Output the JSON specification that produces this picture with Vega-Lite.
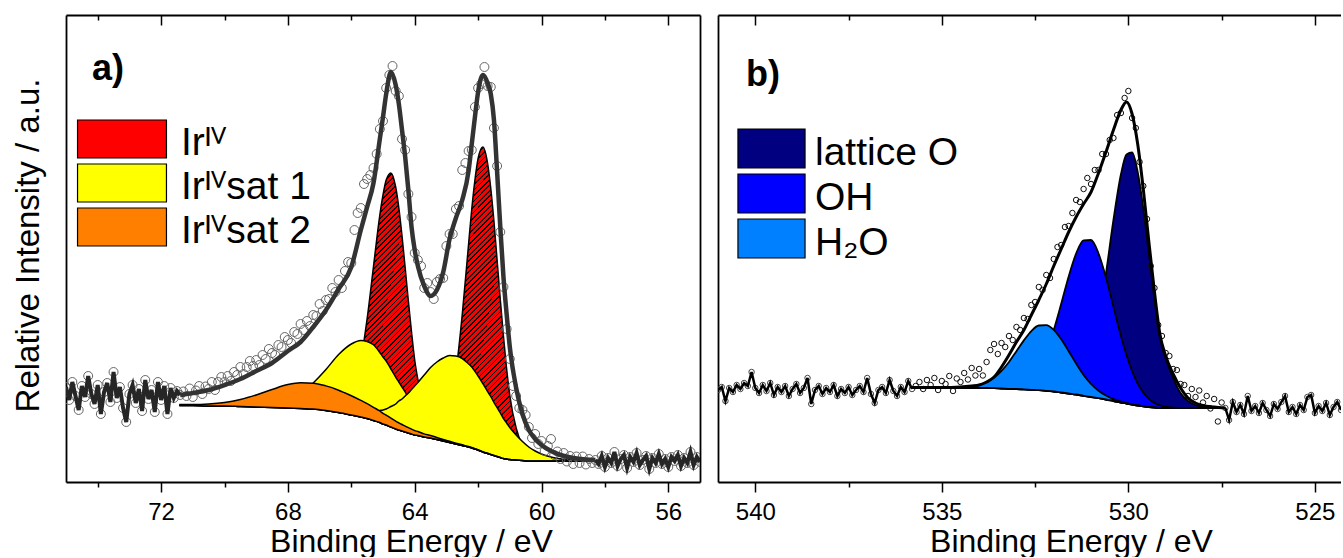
{
"$schema": "https://vega.github.io/schema/vega-lite/v6.json",
"background": "white",
"padding": {"left": 11, "top": 14, "right": 0, "bottom": 0},
"spacing": 18,
"config": {
  "font": "Liberation Sans",
  "view": {"stroke": null},
  "axis": {"grid": false, "domainColor": "#000", "domainWidth": 1.8, "tickColor": "#000", "tickWidth": 1.5, "labelColor": "#000", "titleColor": "#000", "labelFont": "Liberation Sans", "titleFont": "Liberation Sans", "labelFontSize": 24, "titleFontSize": 32, "titleFontWeight": "normal"},
  "legend": {"labelFont": "Liberation Sans", "labelColor": "#000"}
},
"resolve": {"scale": {"x": "independent", "y": "independent", "color": "independent"}, "legend": {"color": "independent"}},
"datasets": {
  "fitA": [
    {"E":71.4,"bg":76.5,"ir":77.5,"s1a":77,"s1b":77,"s2":77.5,"env":87},
    {"E":71.0,"bg":76.5,"ir":77.5,"s1a":77,"s1b":77,"s2":77.5,"env":89},
    {"E":70.5,"bg":76,"ir":77,"s1a":76.5,"s1b":76.5,"s2":78,"env":92},
    {"E":70.0,"bg":76,"ir":77.5,"s1a":76.5,"s1b":76.5,"s2":79.5,"env":97},
    {"E":69.5,"bg":75.5,"ir":77,"s1a":76,"s1b":76,"s2":82.5,"env":103},
    {"E":69.0,"bg":75,"ir":77,"s1a":78,"s1b":75.5,"s2":87,"env":111},
    {"E":68.5,"bg":74.5,"ir":77,"s1a":78.5,"s1b":75,"s2":92.5,"env":119},
    {"E":68.0,"bg":74,"ir":77,"s1a":81,"s1b":74.5,"s2":97.4,"env":131},
    {"E":67.6,"bg":73.5,"ir":77.5,"s1a":87.5,"s1b":74,"s2":99.2,"env":140},
    {"E":67.2,"bg":73,"ir":78,"s1a":99,"s1b":73.5,"s2":98.8,"env":155},
    {"E":66.8,"bg":71.5,"ir":78,"s1a":112.5,"s1b":72,"s2":96.1,"env":172},
    {"E":66.4,"bg":69.5,"ir":80.5,"s1a":127.5,"s1b":70.5,"s2":91.8,"env":193},
    {"E":66.0,"bg":67,"ir":90,"s1a":138,"s1b":69,"s2":86.2,"env":215},
    {"E":65.7,"bg":65,"ir":122,"s1a":141.5,"s1b":69,"s2":81.6,"env":252},
    {"E":65.5,"bg":63.5,"ir":163.5,"s1a":140.5,"s1b":69.5,"s2":78.4,"env":275},
    {"E":65.3,"bg":61.5,"ir":215.5,"s1a":137.2,"s1b":69.5,"s2":74.7,"env":299},
    {"E":65.1,"bg":59.5,"ir":267,"s1a":129.5,"s1b":71.5,"s2":71,"env":343},
    {"E":65.0,"bg":58,"ir":287,"s1a":125,"s1b":72,"s2":68.7,"env":365},
    {"E":64.9,"bg":57,"ir":302,"s1a":121,"s1b":73,"s2":66.9,"env":388},
    {"E":64.75,"bg":55,"ir":309,"s1a":113,"s1b":75.5,"s2":63.8,"env":410},
    {"E":64.6,"bg":53,"ir":295,"s1a":105,"s1b":78,"s2":60.8,"env":397},
    {"E":64.5,"bg":52,"ir":274,"s1a":100,"s1b":81,"s2":59.1,"env":378},
    {"E":64.4,"bg":51,"ir":246,"s1a":95,"s1b":83,"s2":57.5,"env":352},
    {"E":64.3,"bg":50,"ir":214,"s1a":90,"s1b":86,"s2":55.9,"env":325},
    {"E":64.2,"bg":49,"ir":181,"s1a":84,"s1b":89,"s2":54.4,"env":292},
    {"E":64.1,"bg":48,"ir":150,"s1a":79.5,"s1b":92.5,"s2":52.9,"env":255},
    {"E":64.0,"bg":47,"ir":122,"s1a":75,"s1b":96,"s2":51.4,"env":232},
    {"E":63.9,"bg":46.5,"ir":102.5,"s1a":70.5,"s1b":99.5,"s2":50.5,"env":216},
    {"E":63.7,"bg":45,"ir":72,"s1a":63,"s1b":107,"s2":48.1,"env":196},
    {"E":63.5,"bg":44,"ir":59,"s1a":57,"s1b":114.5,"s2":46.5,"env":186},
    {"E":63.3,"bg":42.5,"ir":54.5,"s1a":51.5,"s1b":120,"s2":44.5,"env":192},
    {"E":63.1,"bg":41,"ir":59,"s1a":47,"s1b":124,"s2":42.5,"env":210},
    {"E":62.9,"bg":39.5,"ir":77,"s1a":43.5,"s1b":126.5,"s2":40.7,"env":243},
    {"E":62.7,"bg":38,"ir":110,"s1a":40.5,"s1b":126,"s2":38.9,"env":264},
    {"E":62.5,"bg":36.5,"ir":167.5,"s1a":38.5,"s1b":123.5,"s2":37.2,"env":282},
    {"E":62.3,"bg":35,"ir":238,"s1a":36.5,"s1b":118,"s2":35.5,"env":311},
    {"E":62.2,"bg":34,"ir":273,"s1a":35.5,"s1b":115,"s2":34.5,"env":338},
    {"E":62.1,"bg":33,"ir":302,"s1a":34.5,"s1b":110.6,"s2":33.4,"env":365},
    {"E":62.0,"bg":32,"ir":323.6,"s1a":33,"s1b":106,"s2":32.3,"env":390},
    {"E":61.85,"bg":30,"ir":335,"s1a":31,"s1b":98.5,"s2":30.2,"env":407},
    {"E":61.7,"bg":28.5,"ir":318.5,"s1a":29.5,"s1b":90.5,"s2":28.7,"env":399},
    {"E":61.6,"bg":27.5,"ir":293.5,"s1a":28.5,"s1b":85.5,"s2":27.6,"env":388},
    {"E":61.5,"bg":26.5,"ir":260.5,"s1a":27.5,"s1b":79.5,"s2":26.5,"env":362},
    {"E":61.4,"bg":25.5,"ir":221.5,"s1a":26.5,"s1b":74.5,"s2":25.5,"env":310},
    {"E":61.3,"bg":24.5,"ir":182.5,"s1a":25.5,"s1b":69,"s2":24.5,"env":255},
    {"E":61.2,"bg":23.5,"ir":145.5,"s1a":24.5,"s1b":63.5,"s2":23.5,"env":205},
    {"E":61.1,"bg":23,"ir":113,"s1a":24,"s1b":59,"s2":23,"env":168},
    {"E":61.0,"bg":22.5,"ir":86.5,"s1a":23.5,"s1b":54.5,"s2":22.5,"env":135},
    {"E":60.8,"bg":22,"ir":54,"s1a":23,"s1b":47,"s2":22,"env":94},
    {"E":60.6,"bg":21.5,"ir":36.5,"s1a":22.5,"s1b":40.5,"s2":21.5,"env":68},
    {"E":60.4,"bg":21,"ir":29,"s1a":22,"s1b":35,"s2":21,"env":52},
    {"E":60.2,"bg":21,"ir":26,"s1a":22,"s1b":31,"s2":21,"env":43},
    {"E":60.0,"bg":21,"ir":25,"s1a":21.5,"s1b":28,"s2":21,"env":37},
    {"E":59.7,"bg":21,"ir":24,"s1a":21.5,"s1b":25,"s2":21,"env":31},
    {"E":59.4,"bg":21,"ir":23,"s1a":21,"s1b":23,"s2":21,"env":27},
    {"E":59.0,"bg":21,"ir":22.5,"s1a":21,"s1b":22,"s2":21,"env":24},
    {"E":58.6,"bg":21,"ir":22,"s1a":21,"s1b":21.5,"s2":21,"env":22.5},
    {"E":58.3,"bg":21,"ir":21.5,"s1a":21,"s1b":21,"s2":21,"env":22}
  ],
  "ptsA": [
    {"E":71.3,"I":90.5},{"E":71.2,"I":86},{"E":71.1,"I":93.5},{"E":71.0,"I":85},{"E":70.9,"I":91.5},{"E":70.8,"I":96},{"E":70.7,"I":88},{"E":70.6,"I":95.5},{"E":70.5,"I":93},{"E":70.4,"I":100},
    {"E":70.3,"I":92},{"E":70.2,"I":100},{"E":70.1,"I":105},{"E":70.0,"I":100},{"E":69.9,"I":106},{"E":69.8,"I":101},{"E":69.7,"I":110},{"E":69.6,"I":107},{"E":69.5,"I":115},{"E":69.4,"I":108},
    {"E":69.3,"I":115},{"E":69.2,"I":121},{"E":69.1,"I":116},{"E":69.0,"I":122},{"E":68.9,"I":117},{"E":68.8,"I":127},{"E":68.7,"I":123},{"E":68.6,"I":133},{"E":68.5,"I":129},{"E":68.4,"I":127},
    {"E":68.3,"I":137},{"E":68.2,"I":135},{"E":68.1,"I":145},{"E":68.0,"I":142},{"E":67.9,"I":139},{"E":67.8,"I":150},{"E":67.7,"I":148},{"E":67.6,"I":158},{"E":67.5,"I":152},{"E":67.4,"I":161},
    {"E":67.3,"I":156},{"E":67.2,"I":167},{"E":67.1,"I":166},{"E":67.0,"I":178},{"E":66.9,"I":171},{"E":66.8,"I":182},{"E":66.7,"I":183},{"E":66.6,"I":194},{"E":66.5,"I":190},{"E":66.4,"I":202},
    {"E":66.3,"I":194},{"E":66.2,"I":211},{"E":66.1,"I":220},{"E":66.0,"I":219},{"E":65.9,"I":252},{"E":65.8,"I":269},{"E":65.7,"I":274},{"E":65.6,"I":298},{"E":65.5,"I":303},{"E":65.4,"I":307},
    {"E":65.3,"I":314},{"E":65.2,"I":328},{"E":65.1,"I":353},{"E":65.0,"I":361},{"E":64.9,"I":394},{"E":64.8,"I":407},{"E":64.7,"I":416},{"E":64.6,"I":391},{"E":64.5,"I":386},{"E":64.4,"I":343},
    {"E":64.3,"I":332},{"E":64.2,"I":288},{"E":64.1,"I":265},{"E":64.0,"I":229},{"E":63.9,"I":222},{"E":63.8,"I":216},{"E":63.7,"I":194},{"E":63.6,"I":199},{"E":63.5,"I":190},{"E":63.4,"I":183},
    {"E":63.3,"I":200},{"E":63.2,"I":203},{"E":63.1,"I":204},{"E":63.0,"I":236},{"E":62.9,"I":248},{"E":62.8,"I":248},{"E":62.7,"I":273},{"E":62.6,"I":276},{"E":62.5,"I":312},{"E":62.4,"I":319},
    {"E":62.3,"I":331},{"E":62.2,"I":332},{"E":62.1,"I":375},{"E":62.0,"I":394},{"E":61.9,"I":398},{"E":61.8,"I":415},{"E":61.7,"I":396},{"E":61.6,"I":395},{"E":61.5,"I":354},{"E":61.4,"I":316},
    {"E":61.3,"I":250},{"E":61.2,"I":195},{"E":61.1,"I":153},{"E":61.0,"I":123},{"E":60.9,"I":96},{"E":60.8,"I":86},{"E":60.7,"I":74},{"E":60.6,"I":72},{"E":60.5,"I":67},{"E":60.4,"I":55},
    {"E":60.3,"I":44},{"E":60.2,"I":48},{"E":60.1,"I":38},{"E":60.0,"I":41},{"E":59.9,"I":31},{"E":59.8,"I":36},{"E":59.7,"I":43},{"E":59.6,"I":27},{"E":59.5,"I":30.5},{"E":59.4,"I":23},
    {"E":59.3,"I":29},{"E":59.2,"I":20.5},{"E":59.1,"I":26},{"E":59.0,"I":18},{"E":58.9,"I":25.5},{"E":58.8,"I":19},{"E":58.7,"I":25.5},{"E":58.6,"I":17.5},{"E":58.5,"I":23},{"E":58.4,"I":19}
  ],
  "edgeA": [
    {"E":75.0,"I":95,"seg":"L"},{"E":74.9,"I":82,"seg":"L"},{"E":74.8,"I":100,"seg":"L"},{"E":74.7,"I":86,"seg":"L"},{"E":74.6,"I":72,"seg":"L"},{"E":74.5,"I":96,"seg":"L"},{"E":74.4,"I":85,"seg":"L"},{"E":74.3,"I":106,"seg":"L"},{"E":74.2,"I":88,"seg":"L"},{"E":74.1,"I":78,"seg":"L"},
    {"E":74.0,"I":97,"seg":"L"},{"E":73.9,"I":68,"seg":"L"},{"E":73.8,"I":90,"seg":"L"},{"E":73.7,"I":99,"seg":"L"},{"E":73.6,"I":80,"seg":"L"},{"E":73.5,"I":110,"seg":"L"},{"E":73.4,"I":84,"seg":"L"},{"E":73.3,"I":95,"seg":"L"},{"E":73.2,"I":74,"seg":"L"},{"E":73.1,"I":60,"seg":"L"},
    {"E":73.0,"I":88,"seg":"L"},{"E":72.9,"I":97,"seg":"L"},{"E":72.8,"I":79,"seg":"L"},{"E":72.7,"I":93,"seg":"L"},{"E":72.6,"I":71,"seg":"L"},{"E":72.5,"I":102,"seg":"L"},{"E":72.4,"I":83,"seg":"L"},{"E":72.3,"I":92,"seg":"L"},{"E":72.2,"I":70,"seg":"L"},{"E":72.1,"I":100,"seg":"L"},
    {"E":72.0,"I":82,"seg":"L"},{"E":71.9,"I":96,"seg":"L"},{"E":71.8,"I":68,"seg":"L"},{"E":71.7,"I":94,"seg":"L"},{"E":71.6,"I":84,"seg":"L"},{"E":71.5,"I":91,"seg":"L"},{"E":71.4,"I":87,"seg":"L"},
    {"E":58.3,"I":22,"seg":"R"},{"E":58.2,"I":18,"seg":"R"},{"E":58.1,"I":26,"seg":"R"},{"E":58.0,"I":15,"seg":"R"},{"E":57.9,"I":24,"seg":"R"},{"E":57.8,"I":19,"seg":"R"},{"E":57.7,"I":30,"seg":"R"},{"E":57.6,"I":16,"seg":"R"},{"E":57.5,"I":23,"seg":"R"},{"E":57.4,"I":27,"seg":"R"},
    {"E":57.3,"I":14,"seg":"R"},{"E":57.2,"I":25,"seg":"R"},{"E":57.1,"I":20,"seg":"R"},{"E":57.0,"I":29,"seg":"R"},{"E":56.9,"I":17,"seg":"R"},{"E":56.8,"I":22,"seg":"R"},{"E":56.7,"I":26,"seg":"R"},{"E":56.6,"I":13,"seg":"R"},{"E":56.5,"I":24,"seg":"R"},{"E":56.4,"I":19,"seg":"R"},
    {"E":56.3,"I":28,"seg":"R"},{"E":56.2,"I":18,"seg":"R"},{"E":56.1,"I":23,"seg":"R"},{"E":56.0,"I":15,"seg":"R"},{"E":55.9,"I":25,"seg":"R"},{"E":55.8,"I":21,"seg":"R"},{"E":55.7,"I":27,"seg":"R"},{"E":55.6,"I":16,"seg":"R"},{"E":55.5,"I":24,"seg":"R"},{"E":55.4,"I":19,"seg":"R"},
    {"E":55.3,"I":30,"seg":"R"},{"E":55.2,"I":17,"seg":"R"},{"E":55.1,"I":25,"seg":"R"},{"E":55.0,"I":20,"seg":"R"}
  ],
  "fitB": [
    {"E":535.8,"bg":94,"h2o":94,"oh":94,"lat":94,"env":94.5},
    {"E":535.0,"bg":94,"h2o":94,"oh":94,"lat":94,"env":94.5},
    {"E":534.5,"bg":94,"h2o":94.3,"oh":94,"lat":94,"env":95},
    {"E":534.2,"bg":94,"h2o":95.4,"oh":94,"lat":94,"env":96},
    {"E":534.0,"bg":94,"h2o":97,"oh":94,"lat":94,"env":97},
    {"E":533.8,"bg":94,"h2o":99.9,"oh":94.2,"lat":94,"env":100},
    {"E":533.6,"bg":93.8,"h2o":104.4,"oh":94.2,"lat":93.8,"env":105},
    {"E":533.4,"bg":93.5,"h2o":111.1,"oh":93.9,"lat":93.5,"env":115},
    {"E":533.2,"bg":93.2,"h2o":120,"oh":94.2,"lat":93.2,"env":127},
    {"E":533.0,"bg":93,"h2o":130.8,"oh":95.6,"lat":93,"env":140},
    {"E":532.8,"bg":92.6,"h2o":141.6,"oh":98.5,"lat":92.6,"env":152},
    {"E":532.6,"bg":92.2,"h2o":150.9,"oh":104.2,"lat":92.2,"env":167},
    {"E":532.4,"bg":91.8,"h2o":156.5,"oh":114.5,"lat":91.8,"env":182},
    {"E":532.2,"bg":91.2,"h2o":156.9,"oh":130.2,"lat":91.2,"env":198},
    {"E":532.0,"bg":90.5,"h2o":152.1,"oh":152.1,"lat":90.5,"env":216},
    {"E":531.8,"bg":89.5,"h2o":142.7,"oh":178.2,"lat":90.4,"env":233},
    {"E":531.6,"bg":88.5,"h2o":130.8,"oh":205.5,"lat":91.3,"env":250},
    {"E":531.4,"bg":87.5,"h2o":118.5,"oh":228.5,"lat":95.3,"env":265},
    {"E":531.2,"bg":86.2,"h2o":107.1,"oh":241.7,"lat":105.2,"env":278},
    {"E":531.0,"bg":85,"h2o":98,"oh":242,"lat":126,"env":290},
    {"E":530.8,"bg":83.8,"h2o":91.3,"oh":228.5,"lat":160.5,"env":309},
    {"E":530.6,"bg":82.5,"h2o":86.5,"oh":204.5,"lat":208.5,"env":330},
    {"E":530.4,"bg":81,"h2o":82.9,"oh":175.4,"lat":262,"env":352},
    {"E":530.2,"bg":79.5,"h2o":80.4,"oh":146.2,"lat":307.5,"env":372},
    {"E":530.05,"bg":78.5,"h2o":78.9,"oh":127,"lat":327.5,"env":380},
    {"E":529.9,"bg":77.5,"h2o":77.5,"oh":111,"lat":329.5,"env":368},
    {"E":529.75,"bg":76.5,"h2o":76.5,"oh":98.5,"lat":310,"env":338},
    {"E":529.6,"bg":75.7,"h2o":75.7,"oh":89.5,"lat":273.7,"env":293},
    {"E":529.45,"bg":75,"h2o":75,"oh":83.2,"lat":228.5,"env":240},
    {"E":529.3,"bg":74.5,"h2o":74.5,"oh":79.1,"lat":183.2,"env":190},
    {"E":529.15,"bg":74.2,"h2o":74.2,"oh":76.7,"lat":144.5,"env":147},
    {"E":529.0,"bg":74,"h2o":74,"oh":75.3,"lat":124,"env":126},
    {"E":528.8,"bg":74,"h2o":74,"oh":74.4,"lat":104,"env":108},
    {"E":528.6,"bg":74,"h2o":74,"oh":74,"lat":89,"env":94},
    {"E":528.4,"bg":74,"h2o":74,"oh":74,"lat":81,"env":84},
    {"E":528.2,"bg":74,"h2o":74,"oh":74,"lat":77,"env":79},
    {"E":528.0,"bg":74,"h2o":74,"oh":74,"lat":75,"env":76.5},
    {"E":527.7,"bg":74,"h2o":74,"oh":74,"lat":74,"env":75},
    {"E":527.4,"bg":74,"h2o":74,"oh":74,"lat":74,"env":74}
  ],
  "ptsB": [
    {"E":535.7,"I":96},{"E":535.6,"I":100},{"E":535.5,"I":93},{"E":535.4,"I":102},{"E":535.3,"I":97},{"E":535.2,"I":104},{"E":535.1,"I":92},{"E":535.0,"I":101},{"E":534.9,"I":98},{"E":534.8,"I":106},
    {"E":534.7,"I":91},{"E":534.6,"I":103.5},{"E":534.5,"I":100},{"E":534.4,"I":109},{"E":534.3,"I":102.5},{"E":534.2,"I":114},{"E":534.1,"I":106.5},{"E":534.0,"I":113},{"E":533.9,"I":106.5},{"E":533.8,"I":120},
    {"E":533.7,"I":132},{"E":533.6,"I":138},{"E":533.5,"I":128},{"E":533.4,"I":139},{"E":533.3,"I":135},{"E":533.2,"I":146},{"E":533.1,"I":142},{"E":533.0,"I":155},{"E":532.9,"I":152},{"E":532.8,"I":164},
    {"E":532.7,"I":163},{"E":532.6,"I":177},{"E":532.5,"I":180},{"E":532.4,"I":195},{"E":532.3,"I":192},{"E":532.2,"I":207},{"E":532.1,"I":204},{"E":532.0,"I":223},{"E":531.9,"I":235},{"E":531.8,"I":237},
    {"E":531.7,"I":255},{"E":531.6,"I":256},{"E":531.5,"I":269},{"E":531.4,"I":282},{"E":531.3,"I":280},{"E":531.2,"I":293},{"E":531.1,"I":304},{"E":531.0,"I":298},{"E":530.9,"I":312},{"E":530.8,"I":312},
    {"E":530.7,"I":328},{"E":530.6,"I":328},{"E":530.5,"I":342},{"E":530.4,"I":344},{"E":530.3,"I":367},{"E":530.2,"I":369},{"E":530.1,"I":384},{"E":530.0,"I":391},{"E":529.9,"I":364},{"E":529.8,"I":354},
    {"E":529.7,"I":320},{"E":529.6,"I":296},{"E":529.5,"I":263},{"E":529.4,"I":216},{"E":529.3,"I":194},{"E":529.2,"I":157},{"E":529.1,"I":146},{"E":529.0,"I":129},{"E":528.9,"I":126},{"E":528.8,"I":113},
    {"E":528.7,"I":112},{"E":528.6,"I":98},{"E":528.5,"I":97},{"E":528.4,"I":86},{"E":528.3,"I":93},{"E":528.2,"I":85},{"E":528.1,"I":91.5},{"E":528.0,"I":79.5},{"E":527.9,"I":86},{"E":527.8,"I":73.5},
    {"E":527.7,"I":83},{"E":527.6,"I":60.5},{"E":527.5,"I":79.5}
  ],
  "edgeB": [
    {"E":541.0,"I":92,"seg":"L"},{"E":540.9,"I":95,"seg":"L"},{"E":540.8,"I":81,"seg":"L"},{"E":540.7,"I":94,"seg":"L"},{"E":540.6,"I":90,"seg":"L"},{"E":540.5,"I":97,"seg":"L"},{"E":540.4,"I":93,"seg":"L"},{"E":540.3,"I":99,"seg":"L"},{"E":540.2,"I":96,"seg":"L"},{"E":540.1,"I":110,"seg":"L"},
    {"E":540.0,"I":94,"seg":"L"},{"E":539.9,"I":89,"seg":"L"},{"E":539.8,"I":97,"seg":"L"},{"E":539.7,"I":91,"seg":"L"},{"E":539.6,"I":99,"seg":"L"},{"E":539.5,"I":87,"seg":"L"},{"E":539.4,"I":95,"seg":"L"},{"E":539.3,"I":90,"seg":"L"},{"E":539.2,"I":96,"seg":"L"},{"E":539.1,"I":86,"seg":"L"},
    {"E":539.0,"I":93,"seg":"L"},{"E":538.9,"I":98,"seg":"L"},{"E":538.8,"I":89,"seg":"L"},{"E":538.7,"I":94,"seg":"L"},{"E":538.6,"I":104,"seg":"L"},{"E":538.5,"I":78,"seg":"L"},{"E":538.4,"I":92,"seg":"L"},{"E":538.3,"I":96,"seg":"L"},{"E":538.2,"I":88,"seg":"L"},{"E":538.1,"I":94,"seg":"L"},
    {"E":538.0,"I":90,"seg":"L"},{"E":537.9,"I":97,"seg":"L"},{"E":537.8,"I":86,"seg":"L"},{"E":537.7,"I":93,"seg":"L"},{"E":537.6,"I":89,"seg":"L"},{"E":537.5,"I":95,"seg":"L"},{"E":537.4,"I":87,"seg":"L"},{"E":537.3,"I":92,"seg":"L"},{"E":537.2,"I":96,"seg":"L"},{"E":537.1,"I":90,"seg":"L"},
    {"E":537.0,"I":104,"seg":"L"},{"E":536.9,"I":88,"seg":"L"},{"E":536.8,"I":79,"seg":"L"},{"E":536.7,"I":92,"seg":"L"},{"E":536.6,"I":95,"seg":"L"},{"E":536.5,"I":89,"seg":"L"},{"E":536.4,"I":102,"seg":"L"},{"E":536.3,"I":91,"seg":"L"},{"E":536.2,"I":86,"seg":"L"},{"E":536.1,"I":95,"seg":"L"},
    {"E":536.0,"I":90,"seg":"L"},{"E":535.9,"I":101,"seg":"L"},{"E":535.8,"I":93,"seg":"L"},
    {"E":527.4,"I":74,"seg":"R"},{"E":527.3,"I":62,"seg":"R"},{"E":527.2,"I":80,"seg":"R"},{"E":527.1,"I":70,"seg":"R"},{"E":527.0,"I":77,"seg":"R"},{"E":526.9,"I":68,"seg":"R"},{"E":526.8,"I":86,"seg":"R"},{"E":526.7,"I":71,"seg":"R"},{"E":526.6,"I":76,"seg":"R"},{"E":526.5,"I":69,"seg":"R"},
    {"E":526.4,"I":79,"seg":"R"},{"E":526.3,"I":72,"seg":"R"},{"E":526.2,"I":66,"seg":"R"},{"E":526.1,"I":78,"seg":"R"},{"E":526.0,"I":73,"seg":"R"},{"E":525.9,"I":80,"seg":"R"},{"E":525.8,"I":86,"seg":"R"},{"E":525.7,"I":70,"seg":"R"},{"E":525.6,"I":75,"seg":"R"},{"E":525.5,"I":68,"seg":"R"},
    {"E":525.4,"I":77,"seg":"R"},{"E":525.3,"I":72,"seg":"R"},{"E":525.2,"I":85,"seg":"R"},{"E":525.1,"I":87,"seg":"R"},{"E":525.0,"I":69,"seg":"R"},{"E":524.9,"I":76,"seg":"R"},{"E":524.8,"I":71,"seg":"R"},{"E":524.7,"I":79,"seg":"R"},{"E":524.6,"I":67,"seg":"R"},{"E":524.5,"I":75,"seg":"R"},
    {"E":524.4,"I":80,"seg":"R"},{"E":524.3,"I":72,"seg":"R"}
  ]
},
"hconcat": [
  {
    "width": 634,
    "height": 467,
    "title": {"text": "a)", "anchor": "start", "frame": "group", "orient": "top", "offset": 0, "dx": 26, "dy": 102, "fontSize": 36, "fontWeight": "bold", "font": "Liberation Sans", "color": "#000", "baseline": "alphabetic"},
    "resolve": {"axis": {"x": "independent", "y": "independent"}},
    "layer": [
      {
        "data": {"name": "fitA"},
        "transform": [{"filter": "datum.E <= 66.8 && datum.E >= 59.4"}],
        "mark": {"type": "area", "interpolate": "monotone", "stroke": "#000", "strokeWidth": 1.5, "opacity": 1,
          "fill": {"gradient": "linear", "x1": 0, "y1": 0, "x2": 0.84, "y2": 1.12, "stops": [
{"offset":0,"color":"red"},{"offset":0.007,"color":"red"},{"offset":0.007,"color":"black"},{"offset":0.01,"color":"black"},
{"offset":0.01,"color":"red"},{"offset":0.017,"color":"red"},{"offset":0.017,"color":"black"},{"offset":0.02,"color":"black"},
{"offset":0.02,"color":"red"},{"offset":0.027,"color":"red"},{"offset":0.027,"color":"black"},{"offset":0.03,"color":"black"},
{"offset":0.03,"color":"red"},{"offset":0.037,"color":"red"},{"offset":0.037,"color":"black"},{"offset":0.04,"color":"black"},
{"offset":0.04,"color":"red"},{"offset":0.047,"color":"red"},{"offset":0.047,"color":"black"},{"offset":0.05,"color":"black"},
{"offset":0.05,"color":"red"},{"offset":0.057,"color":"red"},{"offset":0.057,"color":"black"},{"offset":0.06,"color":"black"},
{"offset":0.06,"color":"red"},{"offset":0.067,"color":"red"},{"offset":0.067,"color":"black"},{"offset":0.07,"color":"black"},
{"offset":0.07,"color":"red"},{"offset":0.077,"color":"red"},{"offset":0.077,"color":"black"},{"offset":0.08,"color":"black"},
{"offset":0.08,"color":"red"},{"offset":0.087,"color":"red"},{"offset":0.087,"color":"black"},{"offset":0.09,"color":"black"},
{"offset":0.09,"color":"red"},{"offset":0.097,"color":"red"},{"offset":0.097,"color":"black"},{"offset":0.1,"color":"black"},
{"offset":0.1,"color":"red"},{"offset":0.107,"color":"red"},{"offset":0.107,"color":"black"},{"offset":0.11,"color":"black"},
{"offset":0.11,"color":"red"},{"offset":0.117,"color":"red"},{"offset":0.117,"color":"black"},{"offset":0.12,"color":"black"},
{"offset":0.12,"color":"red"},{"offset":0.127,"color":"red"},{"offset":0.127,"color":"black"},{"offset":0.13,"color":"black"},
{"offset":0.13,"color":"red"},{"offset":0.137,"color":"red"},{"offset":0.137,"color":"black"},{"offset":0.14,"color":"black"},
{"offset":0.14,"color":"red"},{"offset":0.147,"color":"red"},{"offset":0.147,"color":"black"},{"offset":0.15,"color":"black"},
{"offset":0.15,"color":"red"},{"offset":0.157,"color":"red"},{"offset":0.157,"color":"black"},{"offset":0.16,"color":"black"},
{"offset":0.16,"color":"red"},{"offset":0.167,"color":"red"},{"offset":0.167,"color":"black"},{"offset":0.17,"color":"black"},
{"offset":0.17,"color":"red"},{"offset":0.177,"color":"red"},{"offset":0.177,"color":"black"},{"offset":0.18,"color":"black"},
{"offset":0.18,"color":"red"},{"offset":0.187,"color":"red"},{"offset":0.187,"color":"black"},{"offset":0.19,"color":"black"},
{"offset":0.19,"color":"red"},{"offset":0.197,"color":"red"},{"offset":0.197,"color":"black"},{"offset":0.2,"color":"black"},
{"offset":0.2,"color":"red"},{"offset":0.207,"color":"red"},{"offset":0.207,"color":"black"},{"offset":0.21,"color":"black"},
{"offset":0.21,"color":"red"},{"offset":0.217,"color":"red"},{"offset":0.217,"color":"black"},{"offset":0.22,"color":"black"},
{"offset":0.22,"color":"red"},{"offset":0.227,"color":"red"},{"offset":0.227,"color":"black"},{"offset":0.23,"color":"black"},
{"offset":0.23,"color":"red"},{"offset":0.237,"color":"red"},{"offset":0.237,"color":"black"},{"offset":0.24,"color":"black"},
{"offset":0.24,"color":"red"},{"offset":0.247,"color":"red"},{"offset":0.247,"color":"black"},{"offset":0.25,"color":"black"},
{"offset":0.25,"color":"red"},{"offset":0.257,"color":"red"},{"offset":0.257,"color":"black"},{"offset":0.26,"color":"black"},
{"offset":0.26,"color":"red"},{"offset":0.267,"color":"red"},{"offset":0.267,"color":"black"},{"offset":0.27,"color":"black"},
{"offset":0.27,"color":"red"},{"offset":0.277,"color":"red"},{"offset":0.277,"color":"black"},{"offset":0.28,"color":"black"},
{"offset":0.28,"color":"red"},{"offset":0.287,"color":"red"},{"offset":0.287,"color":"black"},{"offset":0.29,"color":"black"},
{"offset":0.29,"color":"red"},{"offset":0.297,"color":"red"},{"offset":0.297,"color":"black"},{"offset":0.3,"color":"black"},
{"offset":0.3,"color":"red"},{"offset":0.307,"color":"red"},{"offset":0.307,"color":"black"},{"offset":0.31,"color":"black"},
{"offset":0.31,"color":"red"},{"offset":0.317,"color":"red"},{"offset":0.317,"color":"black"},{"offset":0.32,"color":"black"},
{"offset":0.32,"color":"red"},{"offset":0.327,"color":"red"},{"offset":0.327,"color":"black"},{"offset":0.33,"color":"black"},
{"offset":0.33,"color":"red"},{"offset":0.337,"color":"red"},{"offset":0.337,"color":"black"},{"offset":0.34,"color":"black"},
{"offset":0.34,"color":"red"},{"offset":0.347,"color":"red"},{"offset":0.347,"color":"black"},{"offset":0.35,"color":"black"},
{"offset":0.35,"color":"red"},{"offset":0.357,"color":"red"},{"offset":0.357,"color":"black"},{"offset":0.36,"color":"black"},
{"offset":0.36,"color":"red"},{"offset":0.367,"color":"red"},{"offset":0.367,"color":"black"},{"offset":0.37,"color":"black"},
{"offset":0.37,"color":"red"},{"offset":0.377,"color":"red"},{"offset":0.377,"color":"black"},{"offset":0.38,"color":"black"},
{"offset":0.38,"color":"red"},{"offset":0.387,"color":"red"},{"offset":0.387,"color":"black"},{"offset":0.39,"color":"black"},
{"offset":0.39,"color":"red"},{"offset":0.397,"color":"red"},{"offset":0.397,"color":"black"},{"offset":0.4,"color":"black"},
{"offset":0.4,"color":"red"},{"offset":0.407,"color":"red"},{"offset":0.407,"color":"black"},{"offset":0.41,"color":"black"},
{"offset":0.41,"color":"red"},{"offset":0.417,"color":"red"},{"offset":0.417,"color":"black"},{"offset":0.42,"color":"black"},
{"offset":0.42,"color":"red"},{"offset":0.427,"color":"red"},{"offset":0.427,"color":"black"},{"offset":0.43,"color":"black"},
{"offset":0.43,"color":"red"},{"offset":0.437,"color":"red"},{"offset":0.437,"color":"black"},{"offset":0.44,"color":"black"},
{"offset":0.44,"color":"red"},{"offset":0.447,"color":"red"},{"offset":0.447,"color":"black"},{"offset":0.45,"color":"black"},
{"offset":0.45,"color":"red"},{"offset":0.457,"color":"red"},{"offset":0.457,"color":"black"},{"offset":0.46,"color":"black"},
{"offset":0.46,"color":"red"},{"offset":0.467,"color":"red"},{"offset":0.467,"color":"black"},{"offset":0.47,"color":"black"},
{"offset":0.47,"color":"red"},{"offset":0.477,"color":"red"},{"offset":0.477,"color":"black"},{"offset":0.48,"color":"black"},
{"offset":0.48,"color":"red"},{"offset":0.487,"color":"red"},{"offset":0.487,"color":"black"},{"offset":0.49,"color":"black"},
{"offset":0.49,"color":"red"},{"offset":0.497,"color":"red"},{"offset":0.497,"color":"black"},{"offset":0.5,"color":"black"},
{"offset":0.5,"color":"red"},{"offset":0.507,"color":"red"},{"offset":0.507,"color":"black"},{"offset":0.51,"color":"black"},
{"offset":0.51,"color":"red"},{"offset":0.517,"color":"red"},{"offset":0.517,"color":"black"},{"offset":0.52,"color":"black"},
{"offset":0.52,"color":"red"},{"offset":0.527,"color":"red"},{"offset":0.527,"color":"black"},{"offset":0.53,"color":"black"},
{"offset":0.53,"color":"red"},{"offset":0.537,"color":"red"},{"offset":0.537,"color":"black"},{"offset":0.54,"color":"black"},
{"offset":0.54,"color":"red"},{"offset":0.547,"color":"red"},{"offset":0.547,"color":"black"},{"offset":0.55,"color":"black"},
{"offset":0.55,"color":"red"},{"offset":0.557,"color":"red"},{"offset":0.557,"color":"black"},{"offset":0.56,"color":"black"},
{"offset":0.56,"color":"red"},{"offset":0.567,"color":"red"},{"offset":0.567,"color":"black"},{"offset":0.57,"color":"black"},
{"offset":0.57,"color":"red"},{"offset":0.577,"color":"red"},{"offset":0.577,"color":"black"},{"offset":0.58,"color":"black"},
{"offset":0.58,"color":"red"},{"offset":0.587,"color":"red"},{"offset":0.587,"color":"black"},{"offset":0.59,"color":"black"},
{"offset":0.59,"color":"red"},{"offset":0.597,"color":"red"},{"offset":0.597,"color":"black"},{"offset":0.6,"color":"black"},
{"offset":0.6,"color":"red"},{"offset":0.607,"color":"red"},{"offset":0.607,"color":"black"},{"offset":0.61,"color":"black"},
{"offset":0.61,"color":"red"},{"offset":0.617,"color":"red"},{"offset":0.617,"color":"black"},{"offset":0.62,"color":"black"},
{"offset":0.62,"color":"red"},{"offset":0.627,"color":"red"},{"offset":0.627,"color":"black"},{"offset":0.63,"color":"black"},
{"offset":0.63,"color":"red"},{"offset":0.637,"color":"red"},{"offset":0.637,"color":"black"},{"offset":0.64,"color":"black"},
{"offset":0.64,"color":"red"},{"offset":0.647,"color":"red"},{"offset":0.647,"color":"black"},{"offset":0.65,"color":"black"},
{"offset":0.65,"color":"red"},{"offset":0.657,"color":"red"},{"offset":0.657,"color":"black"},{"offset":0.66,"color":"black"},
{"offset":0.66,"color":"red"},{"offset":0.667,"color":"red"},{"offset":0.667,"color":"black"},{"offset":0.67,"color":"black"},
{"offset":0.67,"color":"red"},{"offset":0.677,"color":"red"},{"offset":0.677,"color":"black"},{"offset":0.68,"color":"black"},
{"offset":0.68,"color":"red"},{"offset":0.687,"color":"red"},{"offset":0.687,"color":"black"},{"offset":0.69,"color":"black"},
{"offset":0.69,"color":"red"},{"offset":0.697,"color":"red"},{"offset":0.697,"color":"black"},{"offset":0.7,"color":"black"},
{"offset":0.7,"color":"red"},{"offset":0.707,"color":"red"},{"offset":0.707,"color":"black"},{"offset":0.71,"color":"black"},
{"offset":0.71,"color":"red"},{"offset":0.717,"color":"red"},{"offset":0.717,"color":"black"},{"offset":0.72,"color":"black"},
{"offset":0.72,"color":"red"},{"offset":0.727,"color":"red"},{"offset":0.727,"color":"black"},{"offset":0.73,"color":"black"},
{"offset":0.73,"color":"red"},{"offset":0.737,"color":"red"},{"offset":0.737,"color":"black"},{"offset":0.74,"color":"black"},
{"offset":0.74,"color":"red"},{"offset":0.747,"color":"red"},{"offset":0.747,"color":"black"},{"offset":0.75,"color":"black"},
{"offset":0.75,"color":"red"},{"offset":0.757,"color":"red"},{"offset":0.757,"color":"black"},{"offset":0.76,"color":"black"},
{"offset":0.76,"color":"red"},{"offset":0.767,"color":"red"},{"offset":0.767,"color":"black"},{"offset":0.77,"color":"black"},
{"offset":0.77,"color":"red"},{"offset":0.777,"color":"red"},{"offset":0.777,"color":"black"},{"offset":0.78,"color":"black"},
{"offset":0.78,"color":"red"},{"offset":0.787,"color":"red"},{"offset":0.787,"color":"black"},{"offset":0.79,"color":"black"},
{"offset":0.79,"color":"red"},{"offset":0.797,"color":"red"},{"offset":0.797,"color":"black"},{"offset":0.8,"color":"black"},
{"offset":0.8,"color":"red"},{"offset":0.807,"color":"red"},{"offset":0.807,"color":"black"},{"offset":0.81,"color":"black"},
{"offset":0.81,"color":"red"},{"offset":0.817,"color":"red"},{"offset":0.817,"color":"black"},{"offset":0.82,"color":"black"},
{"offset":0.82,"color":"red"},{"offset":0.827,"color":"red"},{"offset":0.827,"color":"black"},{"offset":0.83,"color":"black"},
{"offset":0.83,"color":"red"},{"offset":0.837,"color":"red"},{"offset":0.837,"color":"black"},{"offset":0.84,"color":"black"},
{"offset":0.84,"color":"red"},{"offset":0.847,"color":"red"},{"offset":0.847,"color":"black"},{"offset":0.85,"color":"black"},
{"offset":0.85,"color":"red"},{"offset":0.857,"color":"red"},{"offset":0.857,"color":"black"},{"offset":0.86,"color":"black"},
{"offset":0.86,"color":"red"},{"offset":0.867,"color":"red"},{"offset":0.867,"color":"black"},{"offset":0.87,"color":"black"},
{"offset":0.87,"color":"red"},{"offset":0.877,"color":"red"},{"offset":0.877,"color":"black"},{"offset":0.88,"color":"black"},
{"offset":0.88,"color":"red"},{"offset":0.887,"color":"red"},{"offset":0.887,"color":"black"},{"offset":0.89,"color":"black"},
{"offset":0.89,"color":"red"},{"offset":0.897,"color":"red"},{"offset":0.897,"color":"black"},{"offset":0.9,"color":"black"},
{"offset":0.9,"color":"red"},{"offset":0.907,"color":"red"},{"offset":0.907,"color":"black"},{"offset":0.91,"color":"black"},
{"offset":0.91,"color":"red"},{"offset":0.917,"color":"red"},{"offset":0.917,"color":"black"},{"offset":0.92,"color":"black"},
{"offset":0.92,"color":"red"},{"offset":0.927,"color":"red"},{"offset":0.927,"color":"black"},{"offset":0.93,"color":"black"},
{"offset":0.93,"color":"red"},{"offset":0.937,"color":"red"},{"offset":0.937,"color":"black"},{"offset":0.94,"color":"black"},
{"offset":0.94,"color":"red"},{"offset":0.947,"color":"red"},{"offset":0.947,"color":"black"},{"offset":0.95,"color":"black"},
{"offset":0.95,"color":"red"},{"offset":0.957,"color":"red"},{"offset":0.957,"color":"black"},{"offset":0.96,"color":"black"},
{"offset":0.96,"color":"red"},{"offset":0.967,"color":"red"},{"offset":0.967,"color":"black"},{"offset":0.97,"color":"black"},
{"offset":0.97,"color":"red"},{"offset":0.977,"color":"red"},{"offset":0.977,"color":"black"},{"offset":0.98,"color":"black"},
{"offset":0.98,"color":"red"},{"offset":0.987,"color":"red"},{"offset":0.987,"color":"black"},{"offset":0.99,"color":"black"},
{"offset":0.99,"color":"red"},{"offset":0.997,"color":"red"},{"offset":0.997,"color":"black"},{"offset":1,"color":"black"}
          ]}},
        "encoding": {
          "x": {"field": "E", "type": "quantitative", "scale": {"domain": [55, 75], "reverse": true, "nice": false, "zero": false},
                "axis": {"orient": "bottom", "values": [72, 68, 64, 60, 56], "tickSize": 10, "labelPadding": 8, "domain": true, "labelFontSize": 24, "labelOverlap": false, "labelFlush": false, "title": "Binding Energy / eV", "titleX": 345, "titleY": 69, "titleBaseline": "alphabetic", "titleFontSize": 32}},
          "y": {"field": "ir", "type": "quantitative", "scale": {"domain": [0, 467], "nice": false, "zero": false},
                "axis": {"orient": "left", "domain": true, "ticks": false, "labels": false, "title": "Relative Intensity / a.u.", "titleFontSize": 33, "titleX": -21, "titleY": 230, "titleAngle": 270, "titleBaseline": "bottom", "titleAlign": "center"}},
          "y2": {"field": "bg"}
        }
      },
      {
        "data": {"name": "fitA"},
        "mark": {"type": "area", "interpolate": "monotone", "stroke": "#000", "strokeWidth": 1.5, "opacity": 1},
        "encoding": {
          "x": {"field": "E", "type": "quantitative", "scale": {"domain": [55, 75], "reverse": true, "nice": false, "zero": false},
                "axis": {"orient": "bottom", "values": [74, 70, 66, 62, 58], "tickSize": 5, "labels": false, "domain": false, "title": null}},
          "y": {"field": "s1a", "type": "quantitative", "scale": {"domain": [0, 467], "nice": false, "zero": false},
                "axis": {"orient": "right", "domain": true, "ticks": false, "labels": false, "title": null}},
          "y2": {"field": "bg"},
          "color": {"datum": "Irᴵⱽsat 1", "type": "nominal",
            "scale": {"domain": ["Irᴵⱽ", "Irᴵⱽsat 1", "Irᴵⱽsat 2"], "range": ["#ff0000", "#ffff00", "#ff8000"]},
            "legend": {"orient": "none", "legendX": 36, "legendY": 104, "title": null, "padding": 0,
              "symbolType": "M-2.34,-1H2.34V1H-2.34Z", "symbolSize": 1444, "symbolStrokeColor": "#000", "symbolStrokeWidth": 1.2, "symbolOpacity": 1,
              "labelFontSize": 39, "labelFont": "Liberation Sans", "labelColor": "#000", "labelOffset": 39, "labelLimit": 500, "rowPadding": -2,
              "encode": {"symbols": {"update": {"stroke": {"value": "#000"}}}, "labels": {"update": {"dy": {"value": 4}}}}
            }
          }
        }
      },
      {
        "data": {"name": "fitA"},
        "mark": {"type": "area", "interpolate": "monotone", "stroke": "#000", "strokeWidth": 1.5, "opacity": 1},
        "encoding": {
          "x": {"field": "E", "type": "quantitative", "scale": {"domain": [55, 75], "reverse": true, "nice": false, "zero": false},
                "axis": {"orient": "top", "values": [72, 68, 64, 60, 56], "tickSize": -10, "labels": false, "domain": true, "title": null}},
          "y": {"field": "s1b", "type": "quantitative", "scale": {"domain": [0, 467], "nice": false, "zero": false}, "axis": null},
          "y2": {"field": "bg"},
          "color": {"datum": "Irᴵⱽsat 1", "type": "nominal"}
        }
      },
      {
        "data": {"name": "fitA"},
        "mark": {"type": "area", "interpolate": "monotone", "stroke": "#000", "strokeWidth": 1.5, "opacity": 1},
        "encoding": {
          "x": {"field": "E", "type": "quantitative", "scale": {"domain": [55, 75], "reverse": true, "nice": false, "zero": false},
                "axis": {"orient": "top", "values": [74, 70, 66, 62, 58], "tickSize": -5, "labels": false, "domain": false, "title": null}},
          "y": {"field": "s2", "type": "quantitative", "scale": {"domain": [0, 467], "nice": false, "zero": false}, "axis": null},
          "y2": {"field": "bg"},
          "color": {"datum": "Irᴵⱽsat 2", "type": "nominal"}
        }
      },
      {
        "data": {"name": "ptsA"},
        "mark": {"type": "point", "shape": "circle", "filled": false, "color": "#666", "strokeWidth": 1, "size": 80, "opacity": 1, "clip": true},
        "encoding": {
          "x": {"field": "E", "type": "quantitative", "scale": {"domain": [55, 75], "reverse": true, "nice": false, "zero": false}, "axis": null},
          "y": {"field": "I", "type": "quantitative", "scale": {"domain": [0, 467], "nice": false, "zero": false}, "axis": null}
        }
      },
      {
        "data": {"name": "edgeA"},
        "mark": {"type": "point", "shape": "circle", "filled": false, "color": "#666", "strokeWidth": 1, "size": 80, "opacity": 1, "clip": true},
        "encoding": {
          "x": {"field": "E", "type": "quantitative", "scale": {"domain": [55, 75], "reverse": true, "nice": false, "zero": false}, "axis": null},
          "y": {"field": "I", "type": "quantitative", "scale": {"domain": [0, 467], "nice": false, "zero": false}, "axis": null}
        }
      },
      {
        "data": {"name": "edgeA"},
        "mark": {"type": "line", "color": "#262626", "strokeWidth": 4, "clip": true},
        "encoding": {
          "x": {"field": "E", "type": "quantitative", "scale": {"domain": [55, 75], "reverse": true, "nice": false, "zero": false}, "axis": null},
          "y": {"field": "I", "type": "quantitative", "scale": {"domain": [0, 467], "nice": false, "zero": false}, "axis": null},
          "detail": {"field": "seg", "type": "nominal"}
        }
      },
      {
        "data": {"name": "fitA"},
        "mark": {"type": "line", "interpolate": "monotone", "color": "#333", "strokeWidth": 4.5},
        "encoding": {
          "x": {"field": "E", "type": "quantitative", "scale": {"domain": [55, 75], "reverse": true, "nice": false, "zero": false}, "axis": null},
          "y": {"field": "env", "type": "quantitative", "scale": {"domain": [0, 467], "nice": false, "zero": false}, "axis": null}
        }
      }
    ]
  },
  {
    "width": 623,
    "height": 467,
    "title": {"text": "b)", "anchor": "start", "frame": "group", "orient": "top", "offset": 0, "dx": 28, "dy": 108, "fontSize": 36, "fontWeight": "bold", "font": "Liberation Sans", "color": "#000", "baseline": "alphabetic"},
    "resolve": {"axis": {"x": "independent", "y": "independent"}},
    "layer": [
      {
        "data": {"name": "fitB"},
        "mark": {"type": "area", "interpolate": "monotone", "stroke": "#000", "strokeWidth": 1.8, "opacity": 1},
        "encoding": {
          "x": {"field": "E", "type": "quantitative", "scale": {"domain": [524.3, 541], "reverse": true, "nice": false, "zero": false},
                "axis": {"orient": "bottom", "values": [540, 535, 530, 525], "tickSize": 10, "labelPadding": 8, "domain": true, "labelFontSize": 24, "labelOverlap": false, "labelFlush": false, "title": "Binding Energy / eV", "titleX": 353, "titleY": 69, "titleBaseline": "alphabetic", "titleFontSize": 32}},
          "y": {"field": "lat", "type": "quantitative", "scale": {"domain": [0, 467], "nice": false, "zero": false},
                "axis": {"orient": "left", "domain": true, "ticks": false, "labels": false, "title": null}},
          "y2": {"field": "bg"},
          "color": {"datum": "lattice O", "type": "nominal",
            "scale": {"domain": ["lattice O", "OH", "H₂O"], "range": ["#000080", "#0000ff", "#0080ff"]},
            "legend": {"orient": "none", "legendX": 33, "legendY": 113, "title": null, "padding": 0,
              "symbolType": "M-1.72,-1H1.72V1H-1.72Z", "symbolSize": 1521, "symbolStrokeColor": "#000", "symbolStrokeWidth": 1.2, "symbolOpacity": 1,
              "labelFontSize": 39, "labelFont": "Liberation Sans", "labelColor": "#000", "labelOffset": 23, "labelLimit": 500, "rowPadding": -2,
              "encode": {"symbols": {"update": {"stroke": {"value": "#000"}}}, "labels": {"update": {"dy": {"value": 4}}}}
            }
          }
        }
      },
      {
        "data": {"name": "fitB"},
        "mark": {"type": "area", "interpolate": "monotone", "stroke": "#000", "strokeWidth": 1.8, "opacity": 1},
        "encoding": {
          "x": {"field": "E", "type": "quantitative", "scale": {"domain": [524.3, 541], "reverse": true, "nice": false, "zero": false},
                "axis": {"orient": "bottom", "values": [537.5, 532.5, 527.5], "tickSize": 5, "labels": false, "domain": false, "title": null}},
          "y": {"field": "oh", "type": "quantitative", "scale": {"domain": [0, 467], "nice": false, "zero": false}, "axis": null},
          "y2": {"field": "bg"},
          "color": {"datum": "OH", "type": "nominal"}
        }
      },
      {
        "data": {"name": "fitB"},
        "mark": {"type": "area", "interpolate": "monotone", "stroke": "#000", "strokeWidth": 1.8, "opacity": 1},
        "encoding": {
          "x": {"field": "E", "type": "quantitative", "scale": {"domain": [524.3, 541], "reverse": true, "nice": false, "zero": false},
                "axis": {"orient": "top", "values": [540, 535, 530, 525], "tickSize": -10, "labels": false, "domain": true, "title": null}},
          "y": {"field": "h2o", "type": "quantitative", "scale": {"domain": [0, 467], "nice": false, "zero": false}, "axis": null},
          "y2": {"field": "bg"},
          "color": {"datum": "H₂O", "type": "nominal"}
        }
      },
      {
        "data": {"name": "ptsB"},
        "mark": {"type": "point", "shape": "circle", "filled": false, "color": "#111", "strokeWidth": 1, "size": 30, "opacity": 1, "clip": true},
        "encoding": {
          "x": {"field": "E", "type": "quantitative", "scale": {"domain": [524.3, 541], "reverse": true, "nice": false, "zero": false},
                "axis": {"orient": "top", "values": [537.5, 532.5, 527.5], "tickSize": -5, "labels": false, "domain": false, "title": null}},
          "y": {"field": "I", "type": "quantitative", "scale": {"domain": [0, 467], "nice": false, "zero": false}, "axis": null}
        }
      },
      {
        "data": {"name": "edgeB"},
        "mark": {"type": "point", "shape": "circle", "filled": false, "color": "#444", "strokeWidth": 1, "size": 30, "opacity": 1, "clip": true},
        "encoding": {
          "x": {"field": "E", "type": "quantitative", "scale": {"domain": [524.3, 541], "reverse": true, "nice": false, "zero": false}, "axis": null},
          "y": {"field": "I", "type": "quantitative", "scale": {"domain": [0, 467], "nice": false, "zero": false}, "axis": null}
        }
      },
      {
        "data": {"name": "edgeB"},
        "mark": {"type": "line", "color": "#000", "strokeWidth": 2.5, "clip": true},
        "encoding": {
          "x": {"field": "E", "type": "quantitative", "scale": {"domain": [524.3, 541], "reverse": true, "nice": false, "zero": false}, "axis": null},
          "y": {"field": "I", "type": "quantitative", "scale": {"domain": [0, 467], "nice": false, "zero": false}, "axis": null},
          "detail": {"field": "seg", "type": "nominal"}
        }
      },
      {
        "data": {"name": "fitB"},
        "mark": {"type": "line", "interpolate": "monotone", "color": "#000", "strokeWidth": 3},
        "encoding": {
          "x": {"field": "E", "type": "quantitative", "scale": {"domain": [524.3, 541], "reverse": true, "nice": false, "zero": false}, "axis": null},
          "y": {"field": "env", "type": "quantitative", "scale": {"domain": [0, 467], "nice": false, "zero": false}, "axis": null}
        }
      }
    ]
  }
]
}
